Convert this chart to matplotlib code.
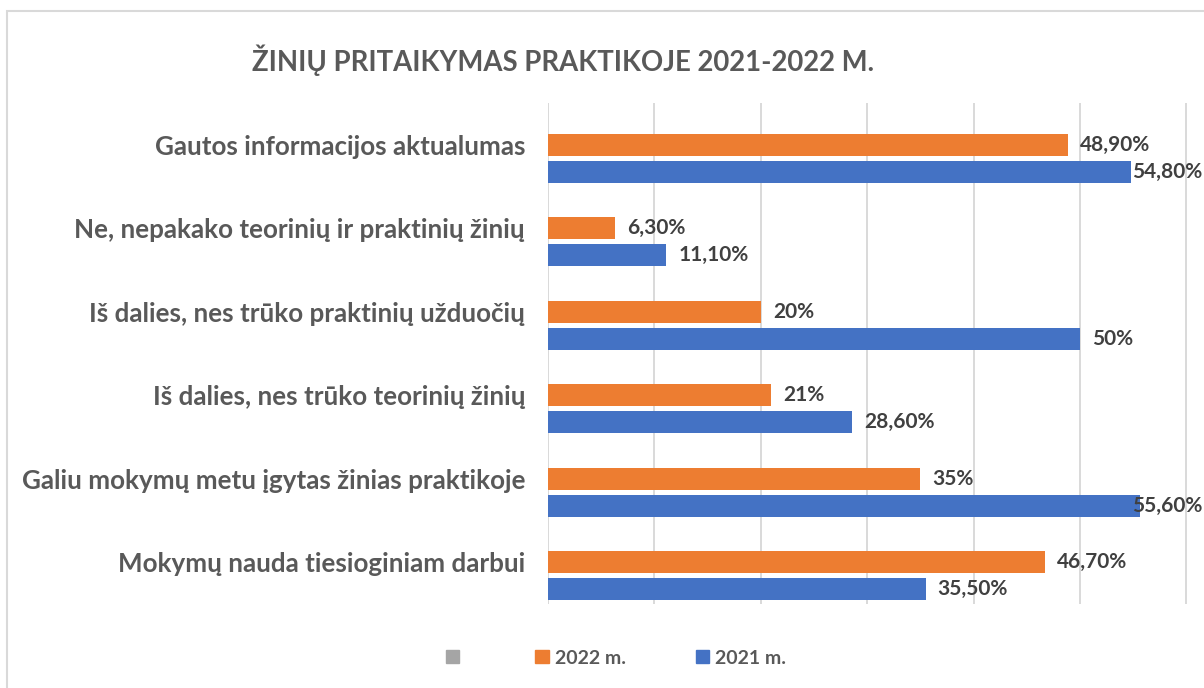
import matplotlib.pyplot as plt
from matplotlib.patches import Patch, Rectangle

categories = [
    "Gautos informacijos aktualumas",
    "Ne, nepakako teorinių ir praktinių žinių",
    "Iš dalies, nes trūko praktinių užduočių",
    "Iš dalies, nes trūko teorinių žinių",
    "Galiu mokymų metu įgytas žinias praktikoje",
    "Mokymų nauda tiesioginiam darbui",
]
vals_2022 = [48.9, 6.3, 20, 21, 35, 46.7]
vals_2021 = [54.8, 11.1, 50, 28.6, 55.6, 35.5]
labels_2022 = ["48,90%", "6,30%", "20%", "21%", "35%", "46,70%"]
labels_2021 = ["54,80%", "11,10%", "50%", "28,60%", "55,60%", "35,50%"]

orange = "#ED7D31"
blue = "#4472C4"
gray = "#A5A5A5"
txt = "#595959"
font = "Lato"

fig = plt.figure(figsize=(12.04, 6.88), dpi=100)
W, H = 1204, 688
ax = fig.add_axes([548 / W, 1 - 604 / H, 1 - 548 / W, (604 - 103) / H])

n = len(categories)
y = [n - 1 - i for i in range(n)]
off = 27 / 83.5
h = 22 / 83.5
ax.barh(y, vals_2022, height=h, color=orange, zorder=3)
ax.barh([v - off for v in y], vals_2021, height=h, color=blue, zorder=3)

# data labels, pushed back inside when they would run off the chart
for yy, v, lab in zip(y, vals_2022, labels_2022):
    ax.text(min(v + 1.13, 54.85), yy, lab, va="center", ha="left", fontsize=15,
            fontweight="bold", color="#404040", family=font)
for yy, v, lab in zip(y, vals_2021, labels_2021):
    ax.text(min(v + 1.13, 54.85), yy - off, lab, va="center", ha="left", fontsize=15,
            fontweight="bold", color="#404040", family=font)

ax.set_xlim(0, (W - 548) / 10.64)
ax.set_ylim(-0.5, n - 0.5)
ax.set_xticks(range(0, 70, 10))
ax.set_xticklabels([])
ax.set_yticks(y)
ax.set_yticklabels(categories, fontsize=18.7, fontweight="bold", color=txt, family=font)
ax.tick_params(axis="both", length=0)
ax.tick_params(axis="y", pad=16.5)
ax.grid(axis="x", color="#D9D9D9", linewidth=1.4, zorder=0)
for s in ax.spines.values():
    s.set_visible(False)
ax.set_facecolor("none")

fig.text(563 / W, 1 - 60 / H, "ŽINIŲ PRITAIKYMAS PRAKTIKOJE 2021-2022 M.", ha="center",
         va="center", fontsize=19.8, fontweight="bold", color=txt, family=font)

fig.patches.append(Rectangle((7 / W, -0.1), 1.2, (H - 11) / H + 0.1, transform=fig.transFigure,
                             fill=False, edgecolor="#D9D9D9", linewidth=1.5))

handles = [Patch(color=gray), Patch(color=orange), Patch(color=blue)]
fig.legend(handles, ["", "2022 m.", "2021 m."], loc="center", bbox_to_anchor=(616 / W, 1 - 658 / H),
           ncol=3, frameon=False, handlelength=0.67, handleheight=0.67, handletextpad=0.31,
           columnspacing=3.6, prop={"family": font, "size": 14, "weight": "bold"}, labelcolor=txt)

fig.savefig("out.png", dpi=100)
